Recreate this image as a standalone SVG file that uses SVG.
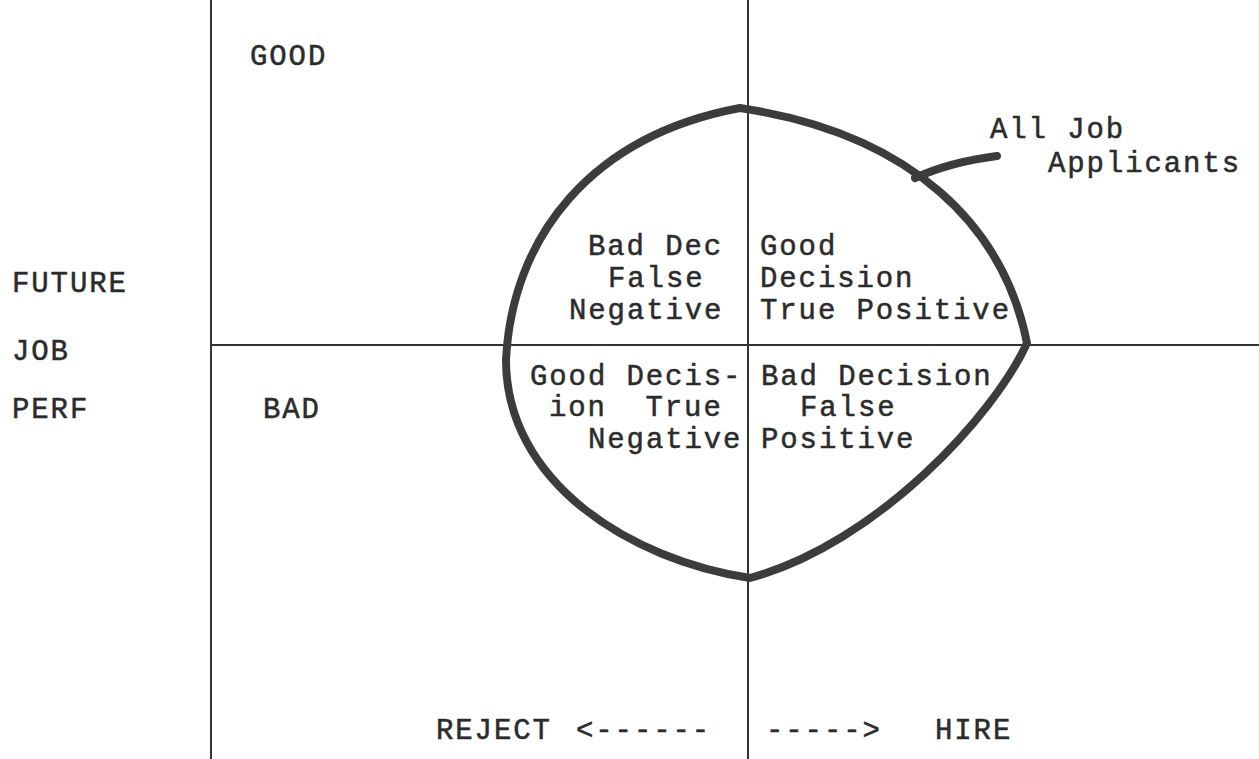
<svg xmlns="http://www.w3.org/2000/svg" width="1259" height="759" viewBox="0 0 1259 759">
<style>
text{font-family:"Liberation Mono","Courier New",monospace;font-size:29px;letter-spacing:1.9px;fill:#2b2b2b;stroke:#2b2b2b;stroke-width:0.5}
.rule{stroke:#333;stroke-width:2;fill:none}
.pen{stroke:#3c3c3c;stroke-width:8;fill:none;stroke-linecap:round;stroke-linejoin:round}
</style>
<rect width="1259" height="759" fill="#fff"/>
<g id="axes">
<line class="rule" x1="211" y1="0" x2="211" y2="759"/>
<line class="rule" x1="748" y1="0" x2="748" y2="759"/>
<line class="rule" x1="211" y1="345" x2="1259" y2="345"/>
</g>
<g id="axis-labels">
<text x="12" y="292">FUTURE</text>
<text x="12" y="360">JOB</text>
<text x="12" y="418">PERF</text>
<text x="250" y="65">GOOD</text>
<text x="263" y="418">BAD</text>
<text x="436" y="739">REJECT</text>
<text x="576" y="739">&lt;------</text>
<text x="766" y="739">-----&gt;</text>
<text x="935" y="739">HIRE</text>
</g>
<g id="applicants">
<path class="pen" d="M740,108 C914,134 1004,228 1027,343 C995,414 878,543 750,578 C630,560 506,482 506,360 C512,238 590,136 740,108 Z"/>
<text x="990" y="138">All Job</text>
<text x="1048" y="172">Applicants</text>
</g>
<g id="q-false-negative">
<text x="588" y="255">Bad Dec</text>
<text x="608" y="287">False</text>
<text x="569" y="319">Negative</text>
</g>
<g id="q-true-positive">
<text x="760" y="255">Good</text>
<text x="760" y="287">Decision</text>
<text x="760" y="319">True Positive</text>
</g>
<g id="q-true-negative">
<text x="530" y="385">Good Decis-</text>
<text y="416"><tspan x="549">ion</tspan><tspan x="645.5">True</tspan></text>
<text x="588" y="448">Negative</text>
</g>
<g id="q-false-positive">
<text x="761" y="385">Bad Decision</text>
<text x="800" y="416">False</text>
<text x="761" y="448">Positive</text>
</g>
<g id="connectors">
<path class="pen" d="M915,178 Q950,162 997,156"/>
</g>
</svg>
